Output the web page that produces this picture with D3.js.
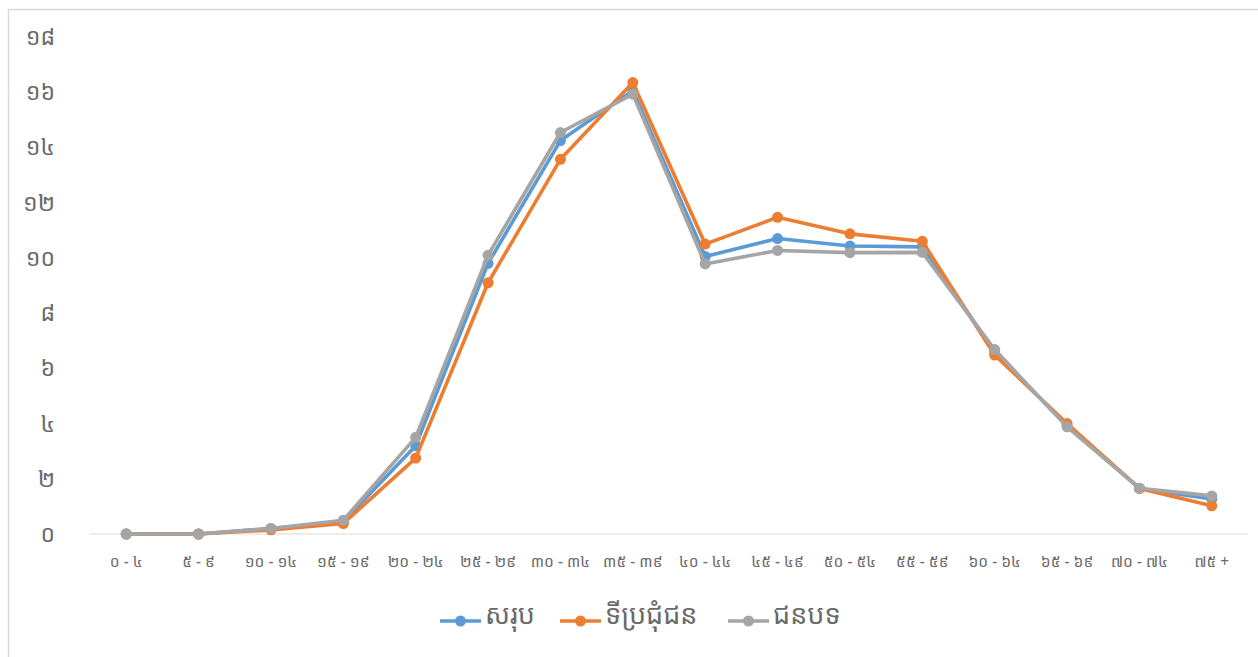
<!DOCTYPE html>
<html><head><meta charset="utf-8">
<script src="https://cdn.jsdelivr.net/npm/d3@7/dist/d3.min.js"></script>
<style>body{margin:0;background:#fff;}svg{display:block;}</style>
</head><body>
<svg id="c" width="1258" height="657"></svg>
<script>
const categories = ["០ - ៤","៥ - ៩","១០ - ១៤","១៥ - ១៩","២០ - ២៤","២៥ - ២៩","៣០ - ៣៤","៣៥ - ៣៩","៤០ - ៤៤","៤៥ - ៤៩","៥០ - ៥៤","៥៥ - ៥៩","៦០ - ៦៤","៦៥ - ៦៩","៧០ - ៧៤","៧៥ +"];
const total = [0, 0, 0.2, 0.45, 3.2, 9.8, 14.25, 16.05, 10.05, 10.7, 10.43, 10.4, 6.6, 3.92, 1.65, 1.27];
const urban = [0, 0, 0.15, 0.38, 2.75, 9.1, 13.57, 16.35, 10.5, 11.47, 10.87, 10.6, 6.48, 4.0, 1.65, 1.02];
const rural = [0, 0, 0.2, 0.5, 3.5, 10.1, 14.54, 15.93, 9.78, 10.27, 10.19, 10.2, 6.68, 3.88, 1.66, 1.38];
const seriesNames = ["សរុប","ទីប្រជុំជន","ជនបទ"];
const yTicks = [0,2,4,6,8,10,12,14,16,18];
const yTickLabels = ["០","២","៤","៦","៨","១០","១២","១៤","១៦","១៨"];

const colors = ["#5B9BD5","#ED7D31","#A5A5A5"];
const series = [total, urban, rural];
const svg = d3.select("#c");
const font = "'Noto Sans Khmer','Khmer OS','Noto Sans','DejaVu Sans',sans-serif";
const textColor = "#6a6a6a";

svg.append("rect").attr("x",8.5).attr("y",9.5).attr("width",1262).attr("height",660)
  .attr("fill","none").attr("stroke","#d9d9d9").attr("stroke-width",1.5);

const x = d3.scaleBand().domain(categories).range([90,1248]);
const y = d3.scaleLinear().domain([0,18]).range([534,37]);

svg.append("line").attr("x1",90).attr("x2",1248).attr("y1",y(0)).attr("y2",y(0))
  .attr("stroke","#d9d9d9").attr("stroke-width",1);

svg.append("g").selectAll("text").data(yTicks).join("text")
  .attr("x",55).attr("y",d=>y(d)).attr("dy","0.35em").attr("text-anchor","end")
  .attr("font-family",font).attr("font-size",23).attr("fill",textColor)
  .text((d,i)=>yTickLabels[i]);

svg.append("g").selectAll("text").data(categories).join("text")
  .attr("x",d=>x(d)+x.bandwidth()/2).attr("y",562).attr("dy","0.35em").attr("text-anchor","middle")
  .attr("font-family",font).attr("font-size",15.5).attr("fill",textColor)
  .text(d=>d);

const line = d3.line().x((d,i)=>x(categories[i])+x.bandwidth()/2).y(d=>y(d));
[0,1,2].forEach(si=>{
  const g = svg.append("g");
  g.append("path").datum(series[si]).attr("d",line).attr("fill","none")
    .attr("stroke",colors[si]).attr("stroke-width",3.6).attr("stroke-linejoin","round");
  g.selectAll("circle").data(series[si]).join("circle")
    .attr("cx",(d,i)=>x(categories[i])+x.bandwidth()/2).attr("cy",d=>y(d)).attr("r",5.5)
    .attr("fill",colors[si]);
});

const legX = [440,560,728];
const legendG = svg.append("g");
seriesNames.forEach((n,i)=>{
  const lx = legX[i], ly = 621;
  legendG.append("line").attr("x1",lx).attr("x2",lx+41).attr("y1",ly).attr("y2",ly)
    .attr("stroke",colors[i]).attr("stroke-width",3.6);
  legendG.append("circle").attr("cx",lx+20.5).attr("cy",ly).attr("r",5.5).attr("fill",colors[i]);
  legendG.append("text").attr("x",lx+45).attr("y",ly-6).attr("dy","0.35em")
    .attr("font-family",font).attr("font-size",27).attr("fill",textColor).text(n);
});
</script>
</body></html>
